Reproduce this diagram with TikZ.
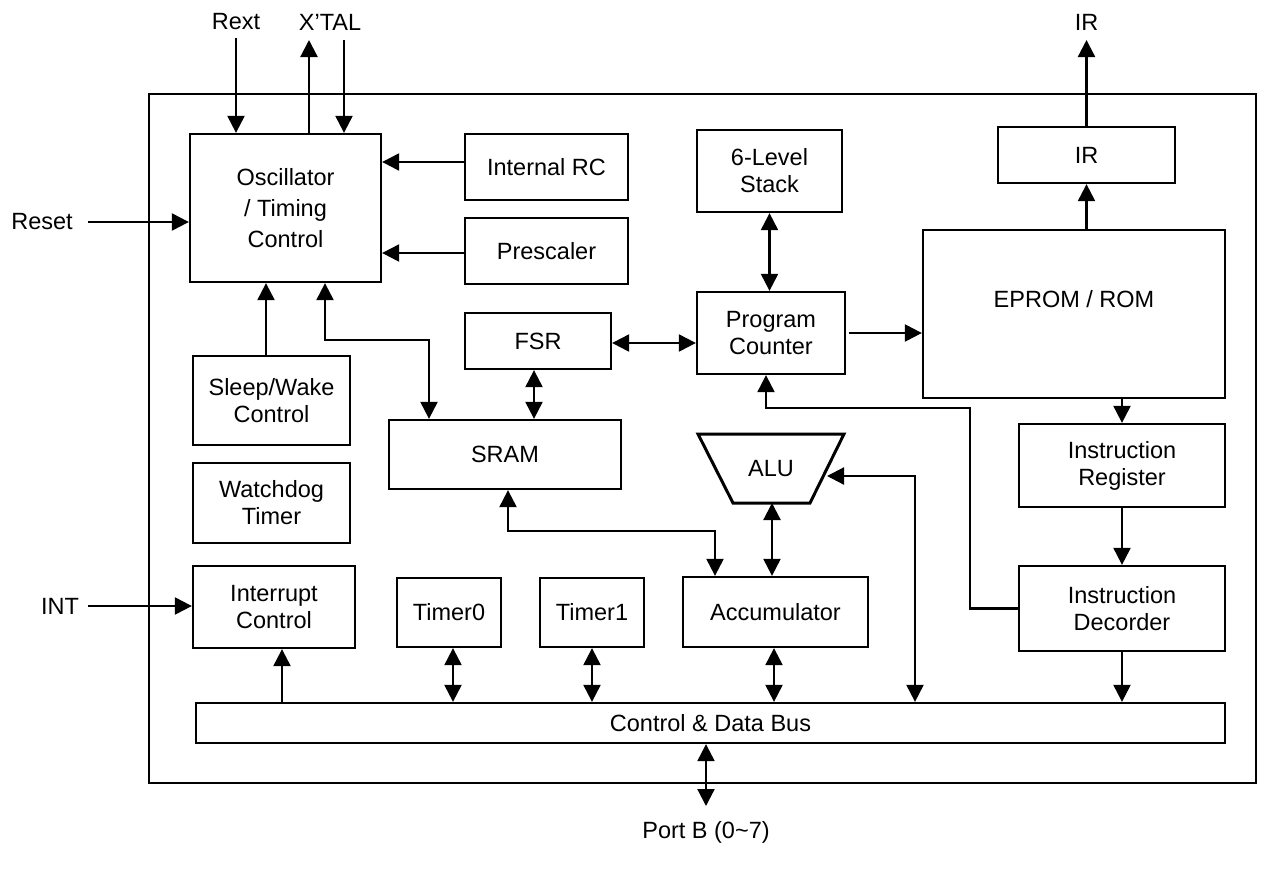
\documentclass[tikz,border=0pt]{standalone}
\usepackage{fontspec}
\setmainfont{Liberation Sans}
\usetikzlibrary{arrows.meta,calc}
\newcommand\dfont{\fontsize{23.5}{27}\selectfont}
\begin{document}
\begin{tikzpicture}[x=1pt,y=-1pt,
  box/.style={draw,line width=2.3pt,align=center,inner sep=0pt,font=\dfont},
  conn/.style={line width=2.2pt,-{Triangle[length=17pt,width=17pt]}},
  bi/.style={line width=2.2pt,{Triangle[length=17pt,width=17pt]}-{Triangle[length=17pt,width=17pt]}},
  lbl/.style={font=\dfont,inner sep=0pt}]
\useasboundingbox (0,0) rectangle (1271,873);
% outer frame
\draw[line width=2.3pt] (149,94) rectangle (1256,783);
% blocks
\node[box,minimum width=191pt,minimum height=148pt,font=\fontsize{23.5}{31}\selectfont] (osc) at (285.5,208) {Oscillator\\/ Timing\\Control};
\node[box,minimum width=163pt,minimum height=66pt] (irc) at (546.5,167) {Internal RC};
\node[box,minimum width=163pt,minimum height=66pt] (pre) at (546.5,251) {Prescaler};
\node[box,minimum width=145pt,minimum height=82pt] (stack) at (769.5,171) {6-Level\\Stack};
\node[box,minimum width=177pt,minimum height=56pt] (irb) at (1086.5,155) {IR};
\node[box,minimum width=302pt,minimum height=168pt] (eprom) at (1074,314) {};
\node[lbl] (eplbl) at (1074,299) {EPROM / ROM};
\node[box,minimum width=148pt,minimum height=82pt] (pc) at (771,333) {Program\\Counter};
\node[box,minimum width=146pt,minimum height=56pt] (fsr) at (538,341) {FSR};
\node[box,minimum width=232pt,minimum height=69pt] (sram) at (505,454.5) {SRAM};
\node[box,minimum width=157pt,minimum height=89pt] (sleep) at (271.5,400.5) {Sleep/Wake\\Control};
\node[box,minimum width=157pt,minimum height=80pt] (wdt) at (271.5,503) {Watchdog\\Timer};
\node[box,minimum width=162pt,minimum height=82pt] (intc) at (274,607) {Interrupt\\Control};
\node[box,minimum width=104pt,minimum height=69pt] (tmr0) at (449,612.5) {Timer0};
\node[box,minimum width=104pt,minimum height=69pt] (tmr1) at (592,612.5) {Timer1};
\node[box,minimum width=185pt,minimum height=70pt] (acc) at (775.5,612) {Accumulator};
\node[box,minimum width=206pt,minimum height=83pt] (ireg) at (1122,465.5) {Instruction\\Register};
\node[box,minimum width=206pt,minimum height=85pt] (idec) at (1122,608.5) {Instruction\\Decorder};
\node[box,minimum width=1029pt,minimum height=40pt] (bus) at (710.5,723) {Control \& Data Bus};
% ALU trapezoid
\draw[line width=3pt] (698,434) -- (844,434) -- (810,503) -- (733,503) -- cycle;
\node[lbl] (alu) at (771,469) {ALU};
\coordinate (aluB) at (772,503);
\coordinate (aluR) at (827,476);
% outside labels
\node[lbl] (rext) at (236,22) {Rext};
\node[lbl] (xtal) at (330,22) {X’TAL};
\node[lbl] (irout) at (1086.5,22) {IR};
\node[lbl] (reset) at (42,222) {Reset};
\node[lbl] (int) at (60,606) {INT};
\node[lbl] (portb) at (706,832) {Port B (0\textasciitilde 7)};
% free ends / bends
\coordinate (rextT) at (236,38);
\coordinate (xtalU) at (309,40);
\coordinate (xtalD) at (344,40);
\coordinate (irT) at (1086.5,40);
\coordinate (resetL) at (88,222);
\coordinate (intL) at (88,606);
\coordinate (bendA) at (429,340);
\coordinate (bendB) at (970,408);
\coordinate (bendC) at (715,531);
\coordinate (bendD) at (915,476);
\coordinate (portT) at (706,806);
% connectors
\draw[conn] (rextT) -- (rextT |- osc.north);
\draw[conn] (xtalU |- osc.north) -- (xtalU);
\draw[conn] (xtalD) -- (xtalD |- osc.north);
\draw[conn] (resetL) -- (resetL -| osc.west);
\draw[conn] (intL) -- (intL -| intc.west);
\draw[conn] ([yshift=5pt]irc.west) -- ([yshift=5pt]irc.west -| osc.east);
\draw[conn] ([yshift=-2pt]pre.west) -- ([yshift=-2pt]pre.west -| osc.east);
\draw[conn] ([xshift=-5.5pt]sleep.north) -- ([xshift=-5.5pt]sleep.north |- osc.south);
\draw[bi] ([xshift=39.5pt]osc.south) |- (bendA) -- (bendA |- sram.north);
\draw[bi] ([yshift=-2pt]fsr.east) -- ([yshift=-2pt]fsr.east -| pc.west);
\draw[bi] ([xshift=-4pt]fsr.south) -- ([xshift=-4pt]fsr.south |- sram.north);
\draw[bi] (stack.south) -- (stack.south |- pc.north);
\draw[conn] ([xshift=3pt]pc.east) -- (pc.east -| eprom.west);
\draw[conn] (irb.south |- eprom.north) -- (irb.south);
\draw[conn] (irb.north) -- (irT);
\draw[conn] (eprom.south -| ireg.north) -- (ireg.north);
\draw[conn] (ireg.south) -- (idec.north);
\draw[conn] (idec.south) -- (idec.south |- bus.north);
\draw[conn] (idec.west) -| (bendB) -| ([xshift=-5pt]pc.south);
\draw[bi] ([xshift=3pt]sram.south) |- (bendC) -- (bendC |- acc.north);
\draw[bi] (aluB) -- (aluB |- acc.north);
\draw[bi] (aluR) -- (bendD) -- (bendD |- bus.north);
\draw[bi] ([xshift=-1.5pt]acc.south) -- ([xshift=-1.5pt]acc.south |- bus.north);
\draw[bi] ([xshift=4pt]tmr0.south) -- ([xshift=4pt]tmr0.south |- bus.north);
\draw[bi] (tmr1.south) -- (tmr1.south |- bus.north);
\draw[conn] ([xshift=8pt]intc.south |- bus.north) -- ([xshift=8pt]intc.south);
\draw[bi] (portT |- bus.south) -- (portT);
\end{tikzpicture}
\end{document}
